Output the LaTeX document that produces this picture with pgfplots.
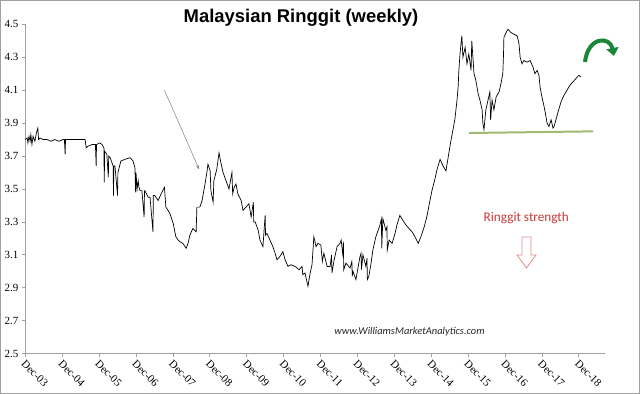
\documentclass[border=0pt]{standalone}
\usepackage{fontspec}
\setmainfont{Liberation Serif}
\newfontfamily\arial{Liberation Sans}
\newfontfamily\calibri{Carlito}
\usepackage{pgfplots}
\usepackage{pgfplotstable}
\pgfplotsset{compat=1.18}
\usetikzlibrary{arrows.meta}
\definecolor{axgray}{RGB}{160,160,160}
\definecolor{supgreen}{RGB}{160,185,115}
\definecolor{arrgreen}{RGB}{25,135,55}
\definecolor{strred}{RGB}{200,55,55}
\definecolor{hollowred}{RGB}{225,140,140}

\pgfplotstableread{
t v
0.00 3.80
0.05 3.81
0.07 3.78
0.10 3.82
0.13 3.79
0.15 3.83
0.18 3.77
0.21 3.82
0.26 3.79
0.30 3.84
0.34 3.87
0.36 3.80
0.40 3.81
0.48 3.80
0.59 3.80
0.70 3.79
0.80 3.80
0.91 3.79
1.02 3.80
1.06 3.80
1.08 3.71
1.09 3.80
1.21 3.80
1.48 3.80
1.62 3.80
1.65 3.75
1.70 3.76
1.81 3.77
1.90 3.77
1.92 3.64
1.93 3.77
2.02 3.78
2.08 3.77
2.13 3.75
2.14 3.54
2.15 3.73
2.21 3.71
2.25 3.57
2.26 3.70
2.30 3.69
2.38 3.64
2.39 3.46
2.40 3.64
2.43 3.64
2.50 3.46
2.51 3.60
2.59 3.67
2.70 3.68
2.84 3.69
2.92 3.67
2.97 3.63
2.99 3.48
3.00 3.60
3.03 3.50
3.06 3.55
3.08 3.51
3.11 3.49
3.16 3.49
3.22 3.33
3.23 3.49
3.24 3.49
3.33 3.45
3.38 3.45
3.46 3.24
3.47 3.46
3.51 3.46
3.60 3.43
3.68 3.47
3.77 3.51
3.81 3.39
3.87 3.37
3.92 3.35
4.01 3.29
4.08 3.21
4.14 3.19
4.19 3.18
4.27 3.17
4.36 3.14
4.41 3.17
4.46 3.22
4.54 3.26
4.63 3.24
4.65 3.39
4.73 3.39
4.79 3.43
4.87 3.53
4.92 3.60
4.95 3.65
5.01 3.61
5.03 3.49
5.09 3.42
5.11 3.55
5.19 3.62
5.25 3.72
5.30 3.66
5.36 3.60
5.44 3.55
5.52 3.50
5.60 3.60
5.62 3.47
5.66 3.51
5.71 3.53
5.76 3.47
5.85 3.43
5.90 3.37
5.98 3.39
6.06 3.41
6.12 3.33
6.18 3.42
6.19 3.30
6.23 3.30
6.31 3.25
6.36 3.19
6.44 3.15
6.50 3.34
6.51 3.22
6.55 3.23
6.63 3.19
6.71 3.15
6.77 3.11
6.82 3.07
6.90 3.09
6.98 3.12
7.04 3.07
7.12 3.03
7.20 3.04
7.31 3.03
7.42 3.01
7.50 3.03
7.52 2.98
7.58 2.99
7.66 2.91
7.72 2.99
7.77 3.04
7.82 3.21
7.88 3.15
7.93 3.17
8.01 3.16
8.05 3.06
8.09 3.11
8.18 3.03
8.26 3.03
8.30 3.10
8.31 2.99
8.37 3.07
8.45 3.15
8.53 3.17
8.56 3.19
8.61 3.09
8.62 3.18
8.63 3.01
8.69 3.05
8.80 3.02
8.85 3.06
8.86 2.97
8.88 3.00
8.96 2.95
9.07 3.09
9.10 3.11
9.11 3.01
9.15 3.10
9.23 3.03
9.26 3.08
9.27 2.95
9.31 2.97
9.37 3.05
9.42 3.13
9.50 3.21
9.61 3.28
9.65 3.32
9.66 3.14
9.69 3.32
9.77 3.25
9.80 3.27
9.81 3.13
9.86 3.19
9.94 3.17
10.02 3.23
10.07 3.28
10.15 3.34
10.23 3.31
10.32 3.28
10.40 3.26
10.48 3.24
10.56 3.21
10.65 3.17
10.72 3.21
10.81 3.27
10.89 3.34
10.94 3.40
11.02 3.49
11.10 3.56
11.16 3.62
11.24 3.68
11.32 3.64
11.40 3.61
11.48 3.72
11.54 3.80
11.59 3.86
11.64 3.92
11.70 4.04
11.73 4.12
11.75 4.22
11.78 4.32
11.83 4.43
11.86 4.30
11.92 4.36
11.97 4.26
12.02 4.32
12.08 4.22
12.10 4.40
12.16 4.20
12.21 4.16
12.27 4.08
12.32 4.04
12.38 3.98
12.40 3.90
12.43 3.86
12.48 3.98
12.54 4.04
12.59 4.09
12.61 3.92
12.65 4.04
12.70 3.98
12.76 4.06
12.84 4.09
12.89 4.14
12.94 4.20
12.96 4.32
12.97 4.42
13.03 4.45
13.08 4.47
13.16 4.45
13.24 4.44
13.33 4.43
13.38 4.38
13.41 4.30
13.46 4.26
13.51 4.28
13.60 4.27
13.68 4.28
13.76 4.24
13.81 4.20
13.87 4.22
13.92 4.19
13.95 4.12
14.00 4.06
14.06 4.00
14.11 3.94
14.14 3.90
14.19 3.88
14.25 3.92
14.30 3.87
14.33 3.88
14.38 3.92
14.44 3.97
14.52 4.03
14.60 4.07
14.68 4.10
14.76 4.13
14.84 4.15
14.92 4.17
15.00 4.19
15.06 4.18
}\myrData

\pgfplotstableread{
t v
12.03 3.84
15.39 3.85
}\supportData

\begin{document}
\begin{tikzpicture}
\useasboundingbox (0,0) rectangle (640bp,394bp);
\draw[axgray] (0.5bp,0.5bp) rectangle (639.5bp,393.5bp);
\begin{axis}[
  at={(25.3bp,40.3bp)}, anchor=south west,
  scale only axis, width=579.7bp, height=329.4bp,
  xmin=0, xmax=15.71, ymin=2.5, ymax=4.5,
  axis x line=bottom, axis y line=left,
  axis line style={-, axgray, line width=0.8pt},
  tick style={axgray, line width=0.8pt},
  tick align=outside, major tick length=3.5bp,
  xtick={0,1,...,15},
  xticklabels={Dec-03,Dec-04,Dec-05,Dec-06,Dec-07,Dec-08,Dec-09,Dec-10,Dec-11,Dec-12,Dec-13,Dec-14,Dec-15,Dec-16,Dec-17,Dec-18},
  xticklabel style={rotate=-45, anchor=north west, font=\fontsize{11}{12}\selectfont, inner sep=1bp, xshift=1bp},
  ytick={2.5,2.7,...,4.6},
  yticklabel style={font=\fontsize{11}{12}\selectfont, /pgf/number format/.cd, fixed, fixed zerofill, precision=1, assume math mode=true},
  clip=false,
]
\addplot[black, line width=0.7pt] table[x=t, y=v] {\myrData};
\addplot[supgreen, line width=2pt] table[x=t, y=v] {\supportData};
\draw[gray, line width=0.5pt, -{Stealth[length=4bp,width=3bp]}] (axis cs:3.77,4.10) -- (axis cs:4.71,3.62);
\end{axis}
\node[anchor=base, font=\arial\bfseries\fontsize{18.5}{20}\selectfont] at (301bp,371.3bp) {Malaysian Ringgit (weekly)};
\node[anchor=base, text=strred, font=\calibri\fontsize{13.3}{15}\selectfont] at (526.3bp,172.3bp) {Ringgit strength};
\draw[hollowred, line width=0.8pt, line join=miter] (522bp,157bp) -- (531bp,157bp) -- (531bp,139bp) -- (536bp,139bp) -- (526.5bp,126bp) -- (517bp,139bp) -- (522bp,139bp) -- cycle;
\node[anchor=base, text=black!85, font=\calibri\itshape\fontsize{10.5}{12}\selectfont] at (409.5bp,59bp) {www.WilliamsMarketAnalytics.com};
\draw[arrgreen, line width=4bp, -{Triangle[length=8bp,width=12bp]}] (585bp,332bp) .. controls (588bp,358bp) and (610bp,358bp) .. (614bp,338bp);
\end{tikzpicture}
\end{document}
